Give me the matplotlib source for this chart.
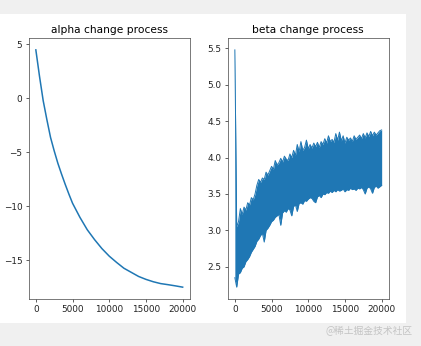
import matplotlib
matplotlib.use("Agg")
import matplotlib.pyplot as plt
from matplotlib.patches import Rectangle

# alpha (denser where the curve bends fast)
alpha_steps = [0, 500, 1000, 1500, 2000, 2500, 3000, 3500, 4000, 4500, 5000,
               6000, 7000, 8000, 9000, 10000, 11000, 12000, 13000, 14000,
               15000, 16000, 17000, 18000, 19000, 20000]
alpha_vals = [4.5, 2.05, -0.2, -1.95, -3.6, -4.85, -6.0, -7.0, -7.95, -8.85,
              -9.7, -11.0, -12.15, -13.07, -13.9, -14.6, -15.18, -15.72,
              -16.1, -16.48, -16.75, -16.97, -17.14, -17.24, -17.35, -17.47]

# beta: noisy band, upper / lower envelope every 250 steps
beta_steps = list(range(0, 20001, 250))
beta_hi = [5.48, 3.05, 3.12, 3.30, 3.22, 3.32, 3.28, 3.38, 3.35, 3.45,
           3.42, 3.50, 3.62, 3.70, 3.66, 3.72, 3.70, 3.80, 3.76, 3.82,
           3.88, 3.84, 3.96, 3.90, 3.93, 3.99, 3.94, 4.02, 3.98, 3.96,
           4.05, 4.00, 4.10, 4.03, 4.18, 4.08, 4.22, 4.10, 4.14, 4.24,
           4.12, 4.18, 4.13, 4.20, 4.15, 4.21, 4.14, 4.22, 4.18, 4.26,
           4.20, 4.30, 4.22, 4.25, 4.21, 4.33, 4.24, 4.35, 4.23, 4.30,
           4.20, 4.28, 4.24, 4.27, 4.22, 4.30, 4.25, 4.28, 4.31, 4.26,
           4.33, 4.27, 4.34, 4.29, 4.36, 4.30, 4.35, 4.31, 4.34, 4.37,
           4.38]
beta_lo = [2.35, 2.22, 2.40, 2.42, 2.48, 2.50, 2.57, 2.60, 2.64, 2.70,
           2.74, 2.78, 2.85, 2.88, 2.93, 2.96, 2.84, 3.00, 3.03, 3.07,
           3.12, 3.14, 3.18, 3.20, 3.22, 3.07, 3.24, 3.27, 3.25, 3.30,
           3.28, 3.20, 3.33, 3.35, 3.26, 3.37, 3.38, 3.36, 3.41, 3.40,
           3.43, 3.45, 3.44, 3.40, 3.38, 3.46, 3.48, 3.45, 3.50, 3.49,
           3.52, 3.51, 3.54, 3.52, 3.55, 3.53, 3.56, 3.54, 3.55, 3.57,
           3.53, 3.56, 3.55, 3.58, 3.56, 3.57, 3.55, 3.58, 3.57, 3.59,
           3.56, 3.50, 3.58, 3.60, 3.57, 3.51, 3.59, 3.61, 3.58, 3.60,
           3.62]

plt.rcParams["font.size"] = 6.4
plt.rcParams["axes.linewidth"] = 0.55
plt.rcParams["xtick.major.width"] = 0.55
plt.rcParams["ytick.major.width"] = 0.55
plt.rcParams["xtick.major.size"] = 2.3
plt.rcParams["ytick.major.size"] = 2.3
plt.rcParams["xtick.major.pad"] = 2.2
plt.rcParams["ytick.major.pad"] = 2.2

fig = plt.figure(figsize=(4.21, 3.46), dpi=100, facecolor="#f0f0f0")
# white figure area inside the grey page
fig.patches.append(Rectangle((0, 0.0665), 0.9644, 0.893, transform=fig.transFigure,
                             facecolor="white", edgecolor="none", zorder=-10))

ax1 = fig.add_axes([0.0677, 0.1358, 0.3836, 0.7543])
ax2 = fig.add_axes([0.5404, 0.1358, 0.3836, 0.7543])

ax1.plot(alpha_steps, alpha_vals, color="#1f77b4", lw=1.1)
ax1.set_title("alpha change process", fontsize=7.7, pad=3.8)
ax1.set_xticks([0, 5000, 10000, 15000, 20000])
ax1.set_yticks([5, 0, -5, -10, -15])

ax2.fill_between(beta_steps, beta_lo, beta_hi, color="#1f77b4", lw=0)
ax2.plot(beta_steps, beta_hi, color="#1f77b4", lw=0.7)
ax2.plot(beta_steps, beta_lo, color="#1f77b4", lw=0.7)
ax2.set_title("beta change process", fontsize=7.7, pad=3.8)
ax2.set_xticks([0, 5000, 10000, 15000, 20000])
ax2.set_yticks([2.5, 3.0, 3.5, 4.0, 4.5, 5.0, 5.5])

for ax in (ax1, ax2):
    for s in ax.spines.values():
        s.set_color("#555555")
    ax.tick_params(colors="#333333", labelcolor="#222222")

fig.text(0.979, 0.043, "@稀土掘金技术社区", ha="right", va="center", fontsize=7,
         color="#c4c4c4", family=["Noto Sans CJK SC", "DejaVu Sans"])

fig.savefig("out.png", dpi=100, facecolor=fig.get_facecolor())
